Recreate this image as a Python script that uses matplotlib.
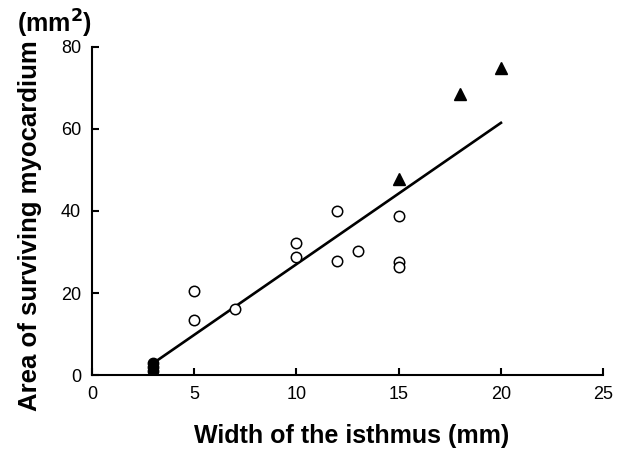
import matplotlib.pyplot as plt

plt.rcParams['font.family'] = ['Liberation Sans', 'DejaVu Sans']

# donnees
open_x = [5, 5, 7, 10, 10, 12, 12, 13, 15, 15, 15]
open_y = [20.5, 13.5, 16, 32.2, 28.9, 40, 27.9, 30.3, 38.9, 27.6, 26.4]
filled_x = [3, 3, 3]
filled_y = [3, 2, 1]
tri_x = [15, 18, 20]
tri_y = [47.7, 68.6, 74.8]
fit_x = [3, 20]
fit_y = [2.9, 61.5]

x_ticks = [0, 5, 10, 15, 20, 25]
y_ticks = [0, 20, 40, 60, 80]

fig = plt.figure(figsize=(6.28, 4.54), dpi=100)
ax = fig.add_axes([0.1465, 0.174, 0.814, 0.7225])

ax.plot(fit_x, fit_y, color='black', linewidth=1.9, zorder=2)
ax.plot(open_x, open_y, 'o', markersize=7.5, markerfacecolor='white',
        markeredgecolor='black', markeredgewidth=1.1, linestyle='none', zorder=3)
ax.plot(filled_x, filled_y, 'o', markersize=7.5, color='black', linestyle='none', zorder=3)
ax.plot(tri_x, tri_y, '^', markersize=8.5, color='black', linestyle='none', zorder=3)

ax.set_xlim(0, 25)
ax.set_ylim(0, 80)
ax.set_xticks(x_ticks)
ax.set_yticks(y_ticks)

for s in ['top', 'right']:
    ax.spines[s].set_visible(False)
for s in ['left', 'bottom']:
    ax.spines[s].set_linewidth(1.5)

ax.tick_params(direction='in', length=5, width=1.5, labelsize=13, pad=8)

ax.set_xlabel('Width of the isthmus (mm)', fontsize=18, fontweight='bold')
ax.xaxis.set_label_coords(0.507, -0.15)
ax.set_ylabel('Area of surviving myocardium', fontsize=18.5, fontweight='bold')
ax.yaxis.set_label_coords(-0.098, 0.455)
fig.text(0.027, 0.947, '(mm$^{\\mathbf{2}}$)', fontsize=18, fontweight='bold', ha='left', va='center')

fig.savefig('out.png', dpi=100)
